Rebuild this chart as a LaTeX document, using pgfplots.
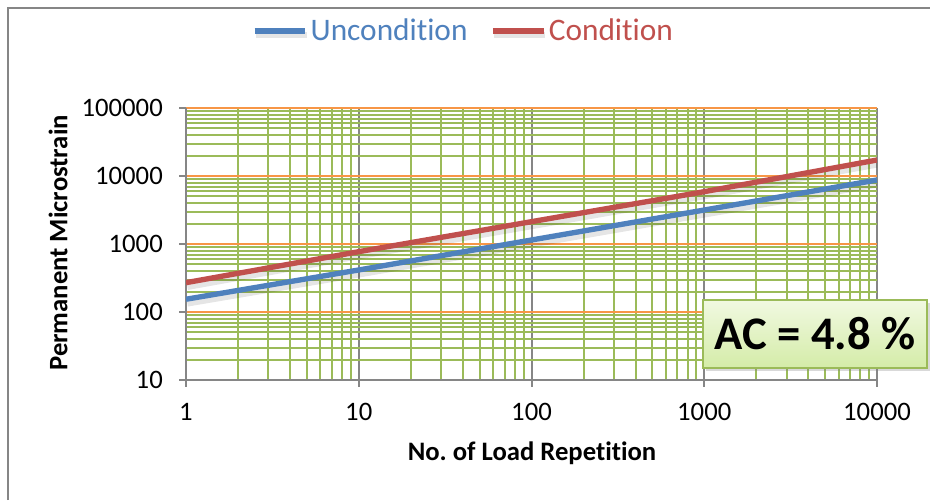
\documentclass[border=0pt]{standalone}
\usepackage{pgfplots}
\pgfplotsset{compat=1.18}
\usepackage{fontspec}
\setmainfont{Carlito}[Ligatures={NoCommon}]
\usetikzlibrary{shadows}
\frenchspacing

\definecolor{ublue}{HTML}{4F81BD}
\definecolor{cred}{HTML}{C0504D}
\definecolor{grgreen}{HTML}{9BBB59}
\definecolor{grorange}{HTML}{F79646}
\definecolor{axgray}{HTML}{868686}
\definecolor{boxtop}{HTML}{F1F9E1}
\definecolor{boxbot}{HTML}{D4ECA8}

% x = load repetitions, y = permanent microstrain
\pgfplotstableread{
n      strain
1      154
10     415
100    1145
1000   3160
10000  8730
}\uncond
\pgfplotstableread{
n      strain
1      270
10     771
100    2130
1000   5880
10000  17180
}\cond

\begin{document}
\begin{tikzpicture}
% 1px = 0.75pt, picture is 930x500 px
\path[use as bounding box] (0,0) rectangle (697.5pt,375pt);
\draw[axgray, line width=1.5pt] (6pt,0) -- (6pt,369pt) -- (697.5pt,369pt);

\begin{loglogaxis}[
  scale only axis,
  at={(139.5pt,90pt)}, anchor=south west,
  width=518.25pt, height=204pt,
  xmin=1, xmax=10000, ymin=10, ymax=100000,
  xtick={1,10,100,1000,10000}, xticklabels={1,10,100,1000,10000},
  ytick={10,100,1000,10000,100000}, yticklabels={10,100,1000,10000,100000},
  tick label style={font=\fontsize{20}{20}\selectfont, text=black},
  xticklabel style={anchor=north, inner sep=0pt, yshift=-12pt},
  yticklabel style={anchor=east, inner sep=0pt, xshift=-12pt},
  tick align=outside, tick pos=left,
  major tick length=5.25pt, minor tick length=0pt,
  tick style={axgray, line width=1.5pt},
  axis lines*=left,
  axis line style={axgray, line width=1.5pt, -},
  xmajorgrids, ymajorgrids, xminorgrids, yminorgrids,
  major x grid style={axgray, line width=1.5pt},
  major y grid style={grorange, line width=1.5pt},
  minor grid style={grgreen, line width=1.5pt},
  every axis x label/.style={at={(rel axis cs:0.5007,-0.268)}, anchor=center},
  every axis y label/.style={at={(rel axis cs:-0.185,0.504)}, rotate=90, anchor=center},
  xlabel={\fontsize{20}{24}\selectfont\bfseries No. of Load Repetition},
  ylabel={\fontsize{20}{24}\selectfont\bfseries Permanent Microstrain},
  legend style={at={(rel axis cs:0.402,1.283)}, anchor=center, draw=none, fill=none,
    legend columns=2, font=\fontsize{23.5}{28}\selectfont,
    /tikz/every even column/.append style={column sep=15pt}},
  legend image code/.code={\draw[#1, line width=4pt] (0pt,0pt) -- (38pt,0pt);},
]
\addplot[ublue, line width=4pt,
  preaction={draw, black, opacity=0.1, line width=5pt, transform canvas={xshift=1pt, yshift=-3pt}}]
  table[x=n, y=strain] {\uncond};
\addlegendentry{\textcolor{ublue}{Uncondition}}
\addplot[cred, line width=4pt,
  preaction={draw, black, opacity=0.1, line width=5pt, transform canvas={xshift=1pt, yshift=-3pt}}]
  table[x=n, y=strain] {\cond};
\addlegendentry{\textcolor{cred}{Condition}}
\end{loglogaxis}

\node[draw=grgreen, line width=1.5pt, top color=boxtop, bottom color=boxbot,
  drop shadow={opacity=0.3, shadow xshift=2pt, shadow yshift=-2pt},
  minimum width=168pt, minimum height=51pt, inner sep=0pt,
  font=\fontsize{35}{40}\selectfont\bfseries]
  at (611.25pt,124.5pt) {AC = 4.8 \%};
\end{tikzpicture}
\end{document}
